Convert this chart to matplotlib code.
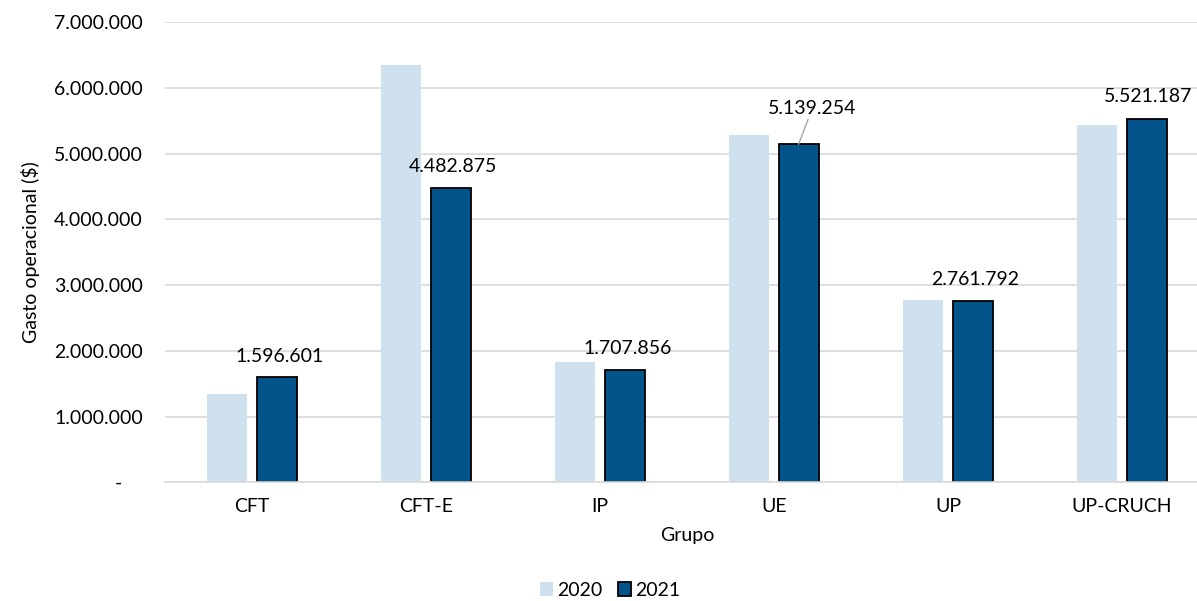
import matplotlib.pyplot as plt
import numpy as np

# Datos
grupos = ['CFT', 'CFT-E', 'IP', 'UE', 'UP', 'UP-CRUCH']
gasto_2020 = [1338000, 6346000, 1825000, 5280000, 2770000, 5433000]
gasto_2021 = [1596601, 4482875, 1707856, 5139254, 2761792, 5521187]
y_ticks = [0, 1000000, 2000000, 3000000, 4000000, 5000000, 6000000, 7000000]

plt.rcParams['font.family'] = ['Lato', 'DejaVu Sans']
fs = 14

def fmt(v):
    return f'{v:,.0f}'.replace(',', '.')

fig = plt.figure(figsize=(11.97, 6.01), dpi=100)
ax = fig.add_axes([165/1197, 1-482.3/601, 1044/1197, (482.3-22)/601])

x = np.arange(len(grupos))
w = 0.23
gap = 0.052
ax.bar(x - (w+gap)/2, gasto_2020, w, color='#cfe0ee', label='2020', zorder=2)
ax.bar(x + (w+gap)/2, gasto_2021, w, color='#02548b', edgecolor='black',
       linewidth=1.3, label='2021', zorder=2)

# etiquetas de datos 2021
for i, v in enumerate(gasto_2021):
    xb = x[i] + (w+gap)/2
    if grupos[i] == 'UE':
        ax.annotate(fmt(v), xy=(xb, v), xytext=(10, 20), textcoords='offset points',
                    ha='center', va='bottom', fontsize=fs,
                    arrowprops=dict(arrowstyle='-', color='#a6a6a6', lw=1,
                                    shrinkA=0, shrinkB=0))
    elif grupos[i] == 'UP-CRUCH':
        # en el original queda pegado al borde derecho
        ax.annotate(fmt(v), xy=(xb, v), xytext=(1, 10), textcoords='offset points',
                    ha='center', va='bottom', fontsize=fs, annotation_clip=False)
    else:
        ax.annotate(fmt(v), xy=(xb, v), xytext=(2, 9), textcoords='offset points',
                    ha='center', va='bottom', fontsize=fs)

ax.set_xlim(-0.5, len(grupos) - 0.5)
ax.set_ylim(0, 7000000)
ax.set_yticks(y_ticks)
ax.set_yticklabels(['-    '] + [fmt(t) for t in y_ticks[1:]], fontsize=fs)
ax.set_xticks(x)
ax.set_xticklabels(grupos, fontsize=fs)
ax.tick_params(axis='y', length=0, pad=16)
ax.tick_params(axis='x', length=0, pad=11)
ax.grid(axis='y', color='#d9d9d9', linewidth=1.2, zorder=0)
for s in ['top', 'right', 'left']:
    ax.spines[s].set_visible(False)
ax.spines['bottom'].set_color('#d9d9d9')
ax.spines['bottom'].set_linewidth(1.2)

ax.set_xlabel('Grupo', fontsize=fs, labelpad=9)
ax.set_ylabel('Gasto operacional ($)', fontsize=fs, labelpad=10)

fig.legend(loc='lower center', bbox_to_anchor=(610/1197, -0.025), ncol=2, frameon=False,
           fontsize=fs, handlelength=0.7, handleheight=0.7, handletextpad=0.2,
           columnspacing=0.8)

fig.savefig('out.png', dpi=100)
